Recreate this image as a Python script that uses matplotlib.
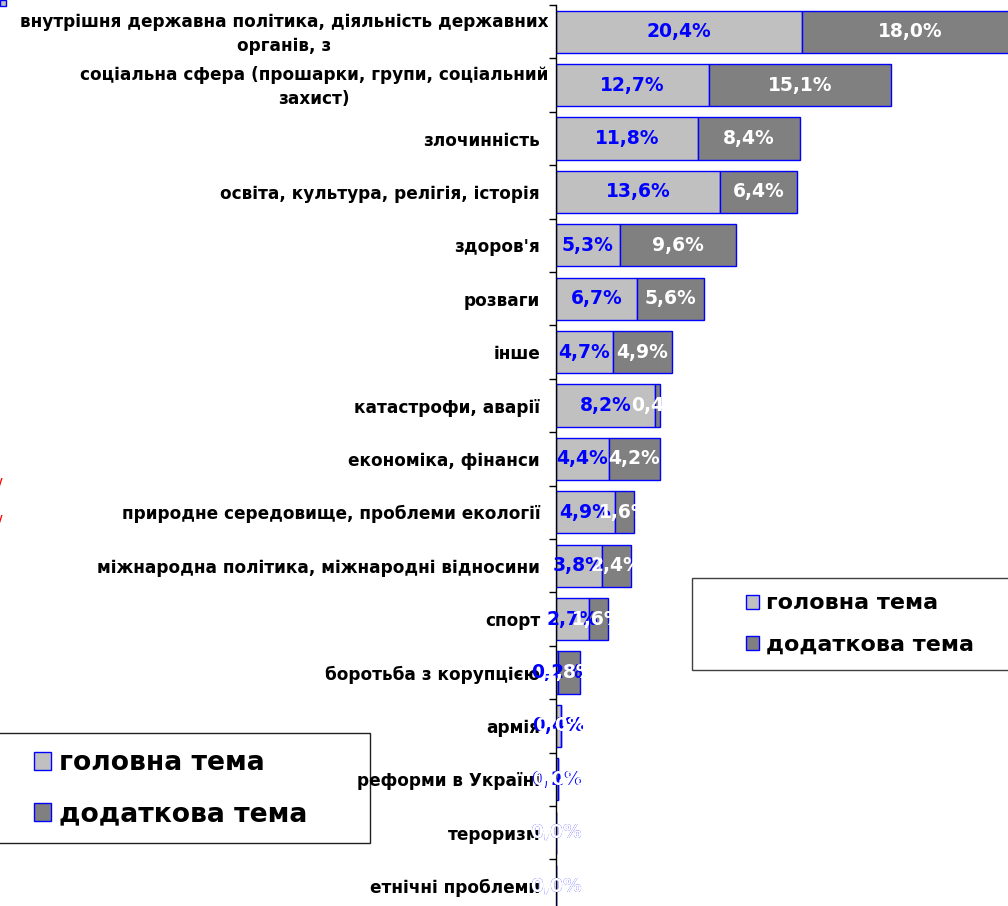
import numpy as np
import matplotlib
matplotlib.use("Agg")
import matplotlib.pyplot as plt
import matplotlib.transforms as mtransforms
from matplotlib.patches import Rectangle

# Categories (top to bottom) and shares in %
categories = [
    "внутрішня державна політика, діяльність державних\nорганів, з",
    "соціальна сфера (прошарки, групи, соціальний\nзахист)",
    "злочинність",
    "освіта, культура, релігія, історія",
    "здоров'я",
    "розваги",
    "інше",
    "катастрофи, аварії",
    "економіка, фінанси",
    "природне середовище, проблеми екології",
    "міжнародна політика, міжнародні відносини",
    "спорт",
    "боротьба з корупцією",
    "армія",
    "реформи в Україні",
    "тероризм",
    "етнічні проблеми",
]
main_topic = [20.4, 12.7, 11.8, 13.6, 5.3, 6.7, 4.7, 8.2, 4.4, 4.9, 3.8, 2.7, 0.2, 0.4, 0.2, 0.0, 0.0]
extra_topic = [18.0, 15.1, 8.4, 6.4, 9.6, 5.6, 4.9, 0.4, 4.2, 1.6, 2.4, 1.6, 1.8, 0.0, 0.0, 0.0, 0.0]
series_names = ["головна тема", "додаткова тема"]

plt.rcParams['font.family'] = ['DejaVu Sans']

fig = plt.figure(figsize=(10.08, 9.06), dpi=100)
W, H = 1008, 906
ax_left, ax_top = 556, 5
slot = 53.4
n = len(categories)
ax = fig.add_axes([ax_left / W, (H - ax_top - n * slot) / H,
                   38.4 * 12.06 / W, n * slot / H])
ax.patch.set_visible(False)

y = np.arange(n)
c_main = "#C0C0C0"
c_extra = "#808080"
b1 = ax.barh(y, main_topic, height=0.79, color=c_main, edgecolor="#0000FF", linewidth=1,
             label=series_names[0])
b2 = ax.barh(y, extra_topic, left=main_topic, height=0.79, color=c_extra, edgecolor="#0000FF",
             linewidth=1, label=series_names[1])

fmt = lambda v: f"{v:.1f}%".replace(".", ",")
for i in range(n):
    ax.text(main_topic[i] / 2, y[i], fmt(main_topic[i]), ha="center", va="center",
            color="#0000FF", fontsize=13.5, fontweight="bold", clip_on=False, zorder=4)
for i in range(n):
    ax.text(main_topic[i] + extra_topic[i] / 2, y[i], fmt(extra_topic[i]), ha="center",
            va="center", color="white", fontsize=13.5, fontweight="bold", clip_on=False,
            zorder=4)

ax.set_ylim(n - 0.5, -0.5)
ax.set_xlim(0, 38.4)

# category labels: wrapped ones sit a bit closer to the axis
ytrans = ax.get_yaxis_transform()
for i, lab in enumerate(categories):
    wrapped = "\n" in lab
    gap = 8 if wrapped else 16
    tr = mtransforms.offset_copy(ytrans, fig=fig, x=-gap, y=-2, units="dots")
    ax.text(0, y[i], lab, transform=tr, ha="right", va="center", fontsize=12.2,
            fontweight="bold", multialignment="center",
            linespacing=1.4 if wrapped else 1.1, zorder=3)

ax.set_yticks(np.arange(n + 1) - 0.5)
ax.set_yticklabels([])
ax.tick_params(axis="y", length=5, width=1, direction="out")
ax.set_xticks([])
for s in ["top", "right", "bottom"]:
    ax.spines[s].set_visible(False)
ax.spines["left"].set_linewidth(1)

# legend frames drawn by hand (boxes are wider than the entries)
fig.patches.append(Rectangle((692 / W, 1 - 670 / H), 330 / W, 92 / H, transform=fig.transFigure,
                             facecolor="white", edgecolor="#404040", linewidth=1, zorder=1))
fig.patches.append(Rectangle((-10 / W, 1 - 843 / H), 380 / W, 110 / H, transform=fig.transFigure,
                             facecolor="white", edgecolor="#202020", linewidth=1, zorder=-1))

leg1 = fig.legend(handles=[b1, b2], labels=series_names, loc="center left",
                  bbox_to_anchor=(746 / W, 1 - 624 / H),
                  prop={"weight": "bold", "size": 16}, frameon=False,
                  handlelength=0.6, handleheight=0.6, handletextpad=0.3,
                  labelspacing=0.95, borderpad=0, borderaxespad=0)
leg2 = fig.legend(handles=[b1, b2], labels=series_names, loc="center left",
                  bbox_to_anchor=(34 / W, 1 - 789 / H),
                  prop={"weight": "bold", "size": 19.2}, frameon=False,
                  handlelength=0.65, handleheight=0.65, handletextpad=0.3,
                  labelspacing=0.95, borderpad=0, borderaxespad=0)
leg1.set_zorder(2)
leg2.set_zorder(2)

# small leftover marks at the edges
fig.patches.append(Rectangle((0, 1 - 6 / H), 6 / W, 6 / H, transform=fig.transFigure,
                             facecolor=c_main, edgecolor="#0000FF", linewidth=1))
fig.text(-0.002, 1 - 483 / H, "/", color="red", fontsize=9, fontweight="bold",
         ha="left", va="center")
fig.text(-0.002, 1 - 520 / H, "/", color="red", fontsize=9, fontweight="bold",
         ha="left", va="center")

fig.savefig("out.png", dpi=100)
